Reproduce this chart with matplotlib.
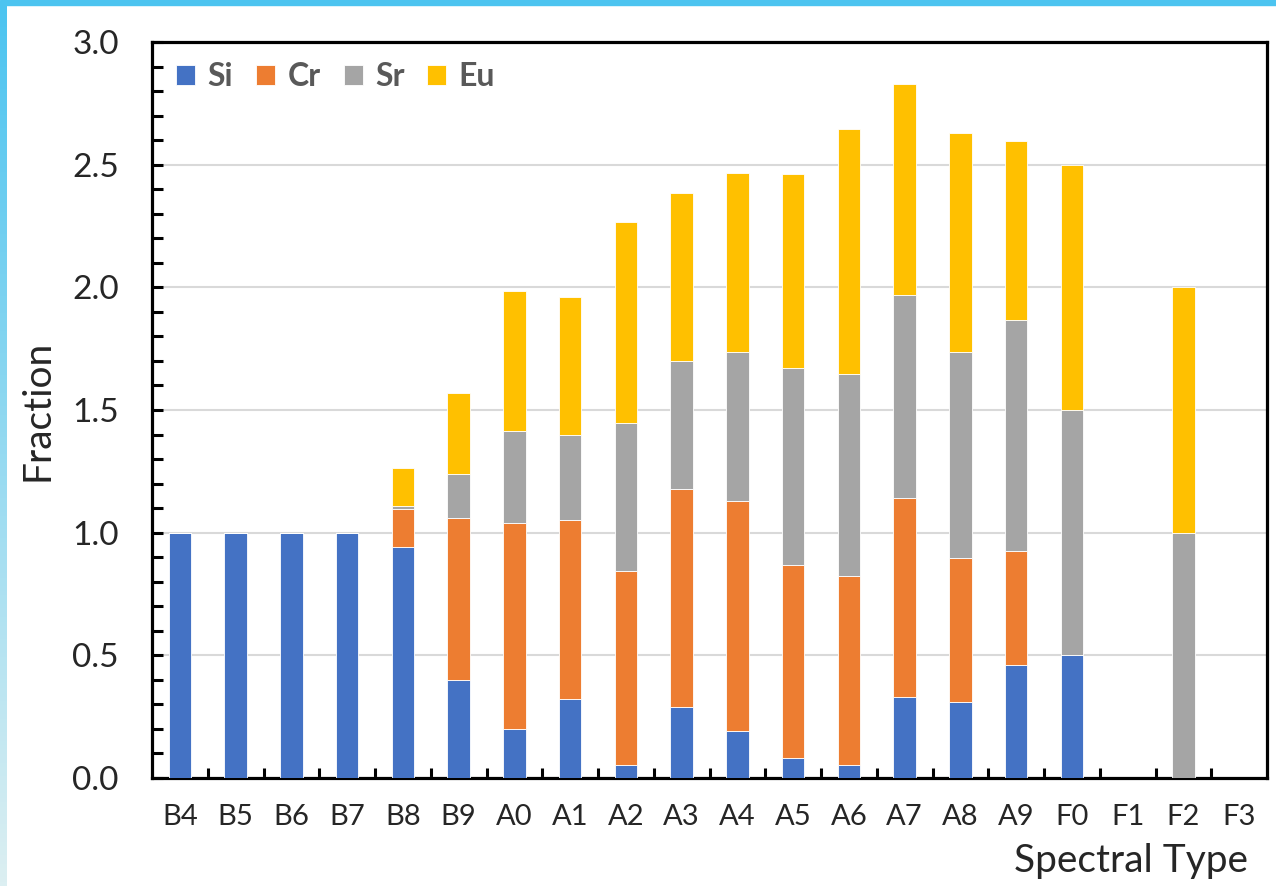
import matplotlib.pyplot as plt
import numpy as np
from matplotlib.colors import LinearSegmentedColormap
from matplotlib.patches import Rectangle
from matplotlib.ticker import FixedLocator, FormatStrFormatter, MultipleLocator

plt.rcParams["font.family"] = ["Lato", "DejaVu Sans"]

spectral_types = ["B4", "B5", "B6", "B7", "B8", "B9", "A0", "A1", "A2", "A3",
                  "A4", "A5", "A6", "A7", "A8", "A9", "F0", "F1", "F2", "F3"]
si = [1.0, 1.0, 1.0, 1.0, 0.94, 0.40, 0.20, 0.32, 0.055, 0.29,
      0.19, 0.08, 0.055, 0.33, 0.31, 0.46, 0.50, 0.0, 0.0, 0.0]
cr = [0.0, 0.0, 0.0, 0.0, 0.155, 0.66, 0.84, 0.73, 0.79, 0.89,
      0.94, 0.79, 0.77, 0.81, 0.585, 0.465, 0.0, 0.0, 0.0, 0.0]
sr = [0.0, 0.0, 0.0, 0.0, 0.015, 0.18, 0.375, 0.35, 0.60, 0.52,
      0.605, 0.80, 0.82, 0.83, 0.84, 0.94, 1.0, 0.0, 1.0, 0.0]
eu = [0.0, 0.0, 0.0, 0.0, 0.155, 0.33, 0.57, 0.56, 0.82, 0.685,
      0.73, 0.79, 1.0, 0.86, 0.895, 0.73, 1.0, 0.0, 1.0, 0.0]

series = [("Si", si, "#4472C4"), ("Cr", cr, "#ED7D31"),
          ("Sr", sr, "#A5A5A5"), ("Eu", eu, "#FFC000")]

fig = plt.figure(figsize=(12.76, 8.86), dpi=100)

# light blue frame on the top and left edge
fig.patches.append(Rectangle((0, 1 - 5 / 886), 1, 5 / 886, transform=fig.transFigure,
                             color="#4CC4F0", zorder=0))
edge = fig.add_axes([0, 0, 7 / 1276, 1 - 5 / 886])
cmap = LinearSegmentedColormap.from_list("edge", ["#4CC4F0", "#DCEFF2"])
edge.imshow(np.linspace(0, 1, 200).reshape(-1, 1), aspect="auto", cmap=cmap)
edge.axis("off")

ax = fig.add_axes([152 / 1276, 1 - 778 / 886, 1115 / 1276, 736 / 886])
x = np.arange(len(spectral_types))
bottom = np.zeros(len(x))
for name, vals, color in series:
    vals = np.array(vals)
    ax.bar(x, vals, width=0.4, bottom=bottom, color=color, label=name,
           edgecolor="white", linewidth=0.6, zorder=3)
    bottom += vals

ax.set_xlim(-0.5, len(x) - 0.5)
ax.set_ylim(0, 3.0)
ax.yaxis.set_major_locator(MultipleLocator(0.5))
ax.yaxis.set_minor_locator(MultipleLocator(0.1))
ax.yaxis.set_major_formatter(FormatStrFormatter("%.1f"))
ax.set_xticks(x)
ax.set_xticklabels(spectral_types)
ax.xaxis.set_minor_locator(FixedLocator(np.arange(0.5, len(x) - 1, 1.0)))

ax.tick_params(axis="y", which="both", direction="in", length=8, width=2.2,
               pad=24, labelsize=24, labelcolor="#262626")
ax.tick_params(axis="x", which="major", length=0, pad=19, labelsize=21,
               labelcolor="#262626")
ax.tick_params(axis="x", which="minor", direction="in", length=7, width=2.2)

for s in ax.spines.values():
    s.set_linewidth(2.3)
    s.set_color("black")

ax.grid(axis="y", which="major", color="#D9D9D9", linewidth=1.5, zorder=0)
ax.set_axisbelow(True)

ax.set_ylabel("Fraction", fontsize=28, color="#262626", labelpad=12)
ax.set_xlabel("Spectral Type", fontsize=28, color="#262626")
ax.xaxis.set_label_coords(0.983, -0.088)
ax.xaxis.label.set_horizontalalignment("right")

leg = ax.legend(loc="upper left", ncol=4, frameon=False,
                handlelength=0.6, handleheight=0.6, handletextpad=0.38,
                columnspacing=0.72, bbox_to_anchor=(-0.004, 1.012),
                prop={"weight": "bold", "size": 23})
for t in leg.get_texts():
    t.set_color("#595959")

fig.savefig("out.png", dpi=100)
